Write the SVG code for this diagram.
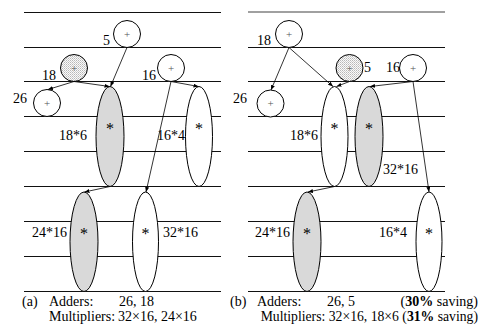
<svg xmlns="http://www.w3.org/2000/svg" width="479" height="328" viewBox="0 0 479 328">
<style>
text{font-family:"Liberation Serif","Times New Roman",serif;fill:#000}
.lbl{font-size:14px}
.cap{font-size:14px}
.plus{font-size:11px;fill:#555;text-anchor:middle}
.star{font-size:16px;text-anchor:middle}
.row{stroke:#111;stroke-width:1}
.add{fill:#fff;stroke:#000;stroke-width:1}
.dot{fill:url(#stip);stroke:#000;stroke-width:1}
.mw{fill:#fff;stroke:#000;stroke-width:1}
.mg{fill:#d9d9d9;stroke:#000;stroke-width:1}
.edge{stroke:#000;stroke-width:0.8;fill:none;marker-end:url(#ah)}
</style>
<defs>
<pattern id="stip" width="2" height="2" patternUnits="userSpaceOnUse">
<rect width="2" height="2" fill="#fafafa"/>
<rect width="1" height="1" fill="#b8b8b8"/>
<rect x="1" y="1" width="1" height="1" fill="#d0d0d0"/>
</pattern>
<marker id="ah" markerWidth="5" markerHeight="4" refX="5" refY="2" orient="auto" markerUnits="userSpaceOnUse">
<path d="M0,0 L5,2 L0,4 z" fill="#000"/>
</marker>
</defs>
<g id="rows">
<line class="row" x1="24" y1="12.5" x2="221" y2="12.5"/>
<line class="row" x1="24" y1="47.5" x2="221" y2="47.5"/>
<line class="row" x1="24" y1="81.5" x2="221" y2="81.5"/>
<line class="row" x1="24" y1="116.5" x2="221" y2="116.5"/>
<line class="row" x1="24" y1="151.5" x2="221" y2="151.5"/>
<line class="row" x1="24" y1="186.5" x2="221" y2="186.5"/>
<line class="row" x1="24" y1="221.5" x2="221" y2="221.5"/>
<line class="row" x1="24" y1="256.5" x2="221" y2="256.5"/>
<line class="row" x1="24" y1="291.5" x2="221" y2="291.5"/>
<line x1="248" y1="12" x2="445" y2="12" stroke="#808080" stroke-width="1.5"/>
<line class="row" x1="248" y1="47.5" x2="445" y2="47.5"/>
<line class="row" x1="248" y1="81.5" x2="445" y2="81.5"/>
<line class="row" x1="248" y1="116.5" x2="445" y2="116.5"/>
<line class="row" x1="248" y1="151.5" x2="445" y2="151.5"/>
<line class="row" x1="248" y1="186.5" x2="445" y2="186.5"/>
<line class="row" x1="248" y1="221.5" x2="445" y2="221.5"/>
<line class="row" x1="248" y1="256.5" x2="445" y2="256.5"/>
<line class="row" x1="248" y1="291.5" x2="445" y2="291.5"/>
</g>
<g id="a-mul-18x6"><ellipse class="mg" cx="110" cy="136.5" rx="14" ry="50"/><text class="star" x="110" y="134">*</text><text class="lbl" x="59" y="140">18*6</text></g>
<g id="a-mul-16x4"><ellipse class="mw" cx="199" cy="136.5" rx="13.5" ry="50"/><text class="star" x="199" y="134">*</text><text class="lbl" x="157" y="140">16*4</text></g>
<g id="a-mul-24x16"><ellipse class="mg" cx="84" cy="241.75" rx="14" ry="49.75"/><text class="star" x="84" y="239">*</text><text class="lbl" x="32" y="237">24*16</text></g>
<g id="a-mul-32x16"><ellipse class="mw" cx="145.5" cy="241.75" rx="13" ry="49.75"/><text class="star" x="145.5" y="239">*</text><text class="lbl" x="163" y="237">32*16</text></g>
<g id="a-add-5"><circle class="add" cx="127" cy="34" r="13.5"/><text class="plus" x="127" y="37.5">+</text><text class="lbl" x="103" y="45">5</text></g>
<g id="a-add-18"><circle class="dot" cx="74" cy="68" r="13.5"/><text class="plus" x="74" y="71.5">+</text><text class="lbl" x="42" y="80">18</text></g>
<g id="a-add-16"><circle class="add" cx="171" cy="68" r="13.5"/><text class="plus" x="171" y="71.5">+</text><text class="lbl" x="142" y="80">16</text></g>
<g id="a-add-26"><circle class="add" cx="47" cy="103" r="13.5"/><text class="plus" x="47" y="106.5">+</text><text class="lbl" x="13" y="103">26</text></g>
<g id="b-mul-18x6"><ellipse class="mw" cx="334.5" cy="136.5" rx="13.5" ry="50"/><text class="star" x="334.5" y="134">*</text><text class="lbl" x="290" y="140">18*6</text></g>
<g id="b-mul-32x16"><ellipse class="mg" cx="369" cy="136.5" rx="14" ry="50"/><text class="star" x="369" y="134">*</text><text class="lbl" x="383" y="174">32*16</text></g>
<g id="b-mul-24x16"><ellipse class="mg" cx="307" cy="241.75" rx="14" ry="49.75"/><text class="star" x="307" y="239">*</text><text class="lbl" x="255" y="237">24*16</text></g>
<g id="b-mul-16x4"><ellipse class="mw" cx="429" cy="241.75" rx="13" ry="49.75"/><text class="star" x="429" y="239">*</text><text class="lbl" x="379" y="237">16*4</text></g>
<g id="b-add-18"><circle class="add" cx="289" cy="34" r="13.5"/><text class="plus" x="289" y="37.5">+</text><text class="lbl" x="257" y="45">18</text></g>
<g id="b-add-5"><circle class="dot" cx="349.5" cy="68" r="13.5"/><text class="plus" x="349.5" y="71.5">+</text><text class="lbl" x="364" y="72">5</text></g>
<g id="b-add-16"><circle class="add" cx="413" cy="68" r="13.5"/><text class="plus" x="413" y="71.5">+</text><text class="lbl" x="386" y="72">16</text></g>
<g id="b-add-26"><circle class="add" cx="270.5" cy="103.5" r="13.5"/><text class="plus" x="270.5" y="107">+</text><text class="lbl" x="233" y="103">26</text></g>
<g id="connectors">
<line class="edge" x1="127" y1="47.5" x2="110.5" y2="86.5"/>
<line class="edge" x1="74" y1="81.5" x2="48" y2="89.5"/>
<line class="edge" x1="74" y1="81.5" x2="109.5" y2="86.5"/>
<line class="edge" x1="171" y1="81.5" x2="198.5" y2="86.5"/>
<line class="edge" x1="171" y1="81.5" x2="146" y2="192"/>
<line class="edge" x1="110" y1="186.5" x2="84.5" y2="192"/>
<line class="edge" x1="289" y1="47.5" x2="271" y2="90"/>
<line class="edge" x1="289" y1="47.5" x2="333" y2="86.5"/>
<line class="edge" x1="349.5" y1="81.5" x2="336.5" y2="86.5"/>
<line class="edge" x1="413" y1="81.5" x2="370" y2="86.5"/>
<line class="edge" x1="413" y1="81.5" x2="429" y2="192"/>
<line class="edge" x1="334.5" y1="186.5" x2="308" y2="192"/>
</g>
<g id="caption-a">
<text class="cap" x="22" y="306">(a)</text>
<text class="cap" x="49" y="306">Adders:</text>
<text class="cap" x="119" y="306">26, 18</text>
<text class="cap" x="49" y="321">Multipliers:</text>
<text class="cap" x="118" y="321">32×16, 24×16</text>
</g>
<g id="caption-b">
<text class="cap" x="230" y="306">(b)</text>
<text class="cap" x="257" y="306">Adders:</text>
<text class="cap" x="327" y="306">26, 5</text>
<text class="cap" x="478" y="306" text-anchor="end">(<tspan font-weight="bold">30%</tspan> saving)</text>
<text class="cap" x="478" y="321" text-anchor="end" style="font-size:13.7px">Multipliers: 32×16, 18×6 (<tspan font-weight="bold">31%</tspan> saving)</text>
</g>
</svg>
